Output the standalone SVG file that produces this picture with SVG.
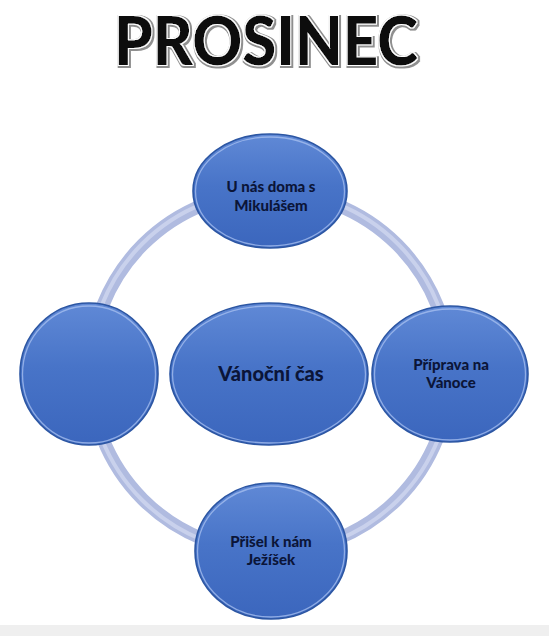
<svg xmlns="http://www.w3.org/2000/svg" width="549" height="636" viewBox="0 0 549 636">
<defs>
<linearGradient id="gNode" x1="0" y1="0" x2="0" y2="1">
<stop offset="0" stop-color="#6089d6"/>
<stop offset="0.45" stop-color="#4874c8"/>
<stop offset="1" stop-color="#3b66bd"/>
</linearGradient>
<filter id="outline" x="-10%" y="-20%" width="120%" height="140%">
<feMorphology in="SourceAlpha" operator="dilate" radius="0.8" result="d1"/>
<feFlood flood-color="#ffffff" result="w"/>
<feComposite in="w" in2="d1" operator="in" result="white"/>
<feMorphology in="SourceAlpha" operator="dilate" radius="1.8" result="d2"/>
<feFlood flood-color="#8f8f8f" result="g"/>
<feComposite in="g" in2="d2" operator="in" result="grey"/>
<feOffset in="grey" dx="0.8" dy="1.2" result="greyo"/>
<feGaussianBlur in="greyo" stdDeviation="0.5" result="greyb"/>
<feMerge>
<feMergeNode in="greyb"/>
<feMergeNode in="white"/>
<feMergeNode in="SourceGraphic"/>
</feMerge>
</filter>
</defs>
<style>
.node{fill:url(#gNode);stroke:#2c56a3;stroke-width:1.6}
.rim{fill:none;stroke:#a9c2f0;stroke-width:1.3;opacity:0.75}
.lbl{font-family:Lato,"Open Sans","Liberation Sans",sans-serif;font-weight:900;fill:#0b1538;text-anchor:middle}
.s{font-size:15px}
.ring{fill:none;stroke:#b0bbe0;stroke-width:13}
.ringhi{fill:none;stroke:#c9d1ec;stroke-width:4}
</style>
<rect x="0" y="0" width="549" height="636" fill="#ffffff"/>
<rect x="0" y="625" width="549" height="11" fill="#efefef"/>
<text id="title" x="266" y="65" font-family="Lato,'Open Sans','Liberation Sans',sans-serif" font-weight="900" font-size="66" text-anchor="middle" textLength="304" lengthAdjust="spacingAndGlyphs" fill="#0a0a0a" filter="url(#outline)">PROSINEC</text>
<g id="connectors">
<circle class="ring" cx="270" cy="372" r="180"/>
<circle class="ringhi" cx="270" cy="372" r="181"/>
</g>
<g id="node-top">
<ellipse class="node" cx="270" cy="191" rx="77" ry="57"/>
<ellipse class="rim" cx="270" cy="191.5" rx="74.5" ry="54.5"/>
<text class="lbl s" x="271" y="192">U nás doma s</text>
<text class="lbl s" x="271" y="211">Mikulášem</text>
</g>
<g id="node-left">
<ellipse class="node" cx="89" cy="374" rx="69" ry="71"/>
<ellipse class="rim" cx="89" cy="374.5" rx="66.5" ry="68.5"/>
</g>
<g id="node-center">
<ellipse class="node" cx="269" cy="374" rx="99" ry="71"/>
<ellipse class="rim" cx="269" cy="374.5" rx="96.5" ry="68.5"/>
<text class="lbl" x="271" y="381" font-size="20">Vánoční čas</text>
</g>
<g id="node-right">
<ellipse class="node" cx="450" cy="374" rx="78" ry="68"/>
<ellipse class="rim" cx="450" cy="374.5" rx="75.5" ry="65.5"/>
<text class="lbl s" x="451" y="370">Příprava na</text>
<text class="lbl s" x="451" y="388">Vánoce</text>
</g>
<g id="node-bottom">
<ellipse class="node" cx="271" cy="551" rx="76" ry="68"/>
<ellipse class="rim" cx="271" cy="551.5" rx="73.5" ry="65.5"/>
<text class="lbl s" x="271" y="547">Přišel k nám</text>
<text class="lbl s" x="271" y="565">Ježíšek</text>
</g>
</svg>
